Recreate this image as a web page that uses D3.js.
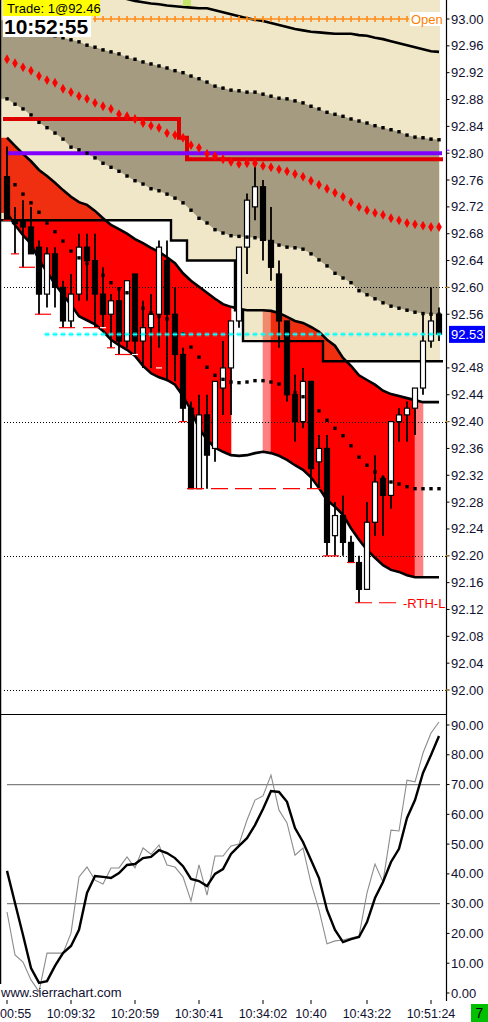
<!DOCTYPE html>
<html><head><meta charset="utf-8">
<script src="https://cdn.jsdelivr.net/npm/d3@7"></script>
<style>
body{margin:0;background:#fff}
svg{display:block}
text{font-family:"Liberation Sans",Arial,sans-serif}
</style></head>
<body><svg id="c" width="488" height="1022"></svg>
<script>
// ---------- DATA ----------
const tickBars   = [0, 8, 16, 24, 32, 38, 45, 53];
const tickLabels = ["00:55","10:09:32","10:20:59","10:30:41","10:34:02","10:40","10:43:22","10:51:24"];
const priceTicks = [93.00,92.96,92.92,92.88,92.84,92.80,92.76,92.72,92.68,92.64,92.60,92.56,92.52,92.48,92.44,92.40,92.36,92.32,92.28,92.24,92.20,92.16,92.12,92.08,92.04,92.00];
const oscTicks   = [90,80,70,60,50,40,30,20,10,0];
const oscLevels  = [70,30];
const gridPrices = [92.60,92.40,92.20,92.00];

const open  = [92.765,92.70,92.70,92.69,92.66,92.59,92.65,92.60,92.55,92.59,92.66,92.64,92.59,92.56,92.58,92.52,92.62,92.52,92.54,92.56,92.64,92.56,92.50,92.42,92.30,92.41,92.36,92.45,92.48,92.55,92.66,92.72,92.75,92.67,92.62,92.55,92.44,92.40,92.46,92.34,92.36,92.23,92.26,92.22,92.19,92.15,92.25,92.315,92.29,92.40,92.41,92.42,92.45,92.52,92.56];
const high  = [92.81,92.72,92.73,92.72,92.67,92.66,92.66,92.61,92.62,92.68,92.68,92.68,92.63,92.59,92.60,92.61,92.62,92.58,92.59,92.67,92.67,92.60,92.51,92.43,92.44,92.44,92.46,92.52,92.55,92.66,92.74,92.78,92.76,92.72,92.64,92.55,92.47,92.48,92.46,92.38,92.38,92.28,92.29,92.23,92.20,92.28,92.35,92.32,92.40,92.42,92.43,92.45,92.56,92.60,92.57];
const low   = [92.70,92.65,92.63,92.65,92.56,92.57,92.57,92.54,92.54,92.58,92.58,92.54,92.54,92.51,92.50,92.51,92.50,92.48,92.48,92.51,92.46,92.46,92.40,92.30,92.30,92.30,92.34,92.41,92.41,92.54,92.62,92.70,92.64,92.61,92.51,92.43,92.37,92.39,92.30,92.30,92.20,92.20,92.20,92.19,92.13,92.15,92.23,92.23,92.27,92.37,92.37,92.38,92.44,92.51,92.52];
const close = [92.70,92.695,92.69,92.65,92.59,92.65,92.60,92.55,92.59,92.66,92.64,92.59,92.56,92.58,92.52,92.61,92.52,92.54,92.56,92.66,92.56,92.50,92.42,92.30,92.41,92.35,92.46,92.48,92.55,92.66,92.73,92.75,92.67,92.63,92.55,92.44,92.40,92.46,92.33,92.36,92.22,92.26,92.22,92.19,92.15,92.25,92.31,92.29,92.40,92.41,92.42,92.45,92.52,92.55,92.53];

const outerTop = [93.073,93.070,93.067,93.064,93.061,93.058,93.055,93.052,93.049,93.046,93.043,93.040,93.037,93.034,93.032,93.030,93.027,93.025,93.023,93.022,93.020,93.019,93.018,93.017,93.016,93.016,93.013,93.010,93.007,93.004,93.001,92.999,92.997,92.994,92.991,92.988,92.985,92.983,92.981,92.980,92.979,92.978,92.978,92.978,92.976,92.975,92.972,92.970,92.967,92.964,92.961,92.958,92.955,92.952,92.951];
const bbUpper = [92.998,92.995,92.991,92.987,92.983,92.979,92.975,92.972,92.969,92.966,92.961,92.958,92.954,92.951,92.948,92.943,92.940,92.936,92.933,92.930,92.927,92.923,92.920,92.915,92.911,92.906,92.900,92.897,92.894,92.893,92.891,92.891,92.888,92.885,92.882,92.881,92.878,92.875,92.870,92.866,92.861,92.858,92.855,92.851,92.848,92.845,92.841,92.838,92.835,92.832,92.827,92.824,92.823,92.821,92.820];
const bbMid   = [92.940,92.934,92.928,92.923,92.915,92.909,92.905,92.896,92.891,92.885,92.881,92.875,92.870,92.866,92.858,92.855,92.851,92.845,92.841,92.838,92.830,92.827,92.823,92.812,92.808,92.799,92.796,92.791,92.787,92.784,92.785,92.785,92.781,92.779,92.776,92.773,92.769,92.765,92.759,92.753,92.747,92.741,92.735,92.727,92.720,92.715,92.711,92.708,92.703,92.700,92.696,92.694,92.692,92.690,92.690];
const bbLower = [92.881,92.873,92.866,92.857,92.846,92.838,92.830,92.821,92.809,92.805,92.800,92.793,92.785,92.779,92.773,92.766,92.759,92.754,92.747,92.744,92.739,92.733,92.726,92.715,92.703,92.696,92.686,92.681,92.677,92.676,92.675,92.674,92.672,92.668,92.663,92.660,92.659,92.657,92.650,92.641,92.632,92.621,92.614,92.607,92.595,92.589,92.583,92.577,92.572,92.569,92.566,92.563,92.561,92.560,92.560];
const kcUpper = [92.823,92.811,92.799,92.788,92.775,92.766,92.756,92.745,92.735,92.727,92.723,92.714,92.703,92.693,92.687,92.680,92.672,92.666,92.659,92.653,92.645,92.636,92.621,92.610,92.601,92.592,92.583,92.575,92.571,92.568,92.566,92.566,92.566,92.565,92.562,92.556,92.550,92.547,92.541,92.534,92.522,92.513,92.495,92.483,92.469,92.462,92.455,92.446,92.441,92.438,92.435,92.432,92.429,92.429,92.429];
const kcMid   = [92.763,92.753,92.739,92.726,92.712,92.696,92.683,92.669,92.654,92.644,92.636,92.629,92.618,92.607,92.598,92.592,92.581,92.569,92.562,92.557,92.553,92.545,92.531,92.511,92.496,92.481,92.469,92.463,92.459,92.458,92.459,92.461,92.461,92.459,92.456,92.449,92.443,92.437,92.428,92.416,92.402,92.390,92.379,92.364,92.347,92.335,92.325,92.316,92.310,92.307,92.303,92.300,92.300,92.300,92.300];
const kcLower = [92.711,92.693,92.678,92.665,92.641,92.623,92.605,92.589,92.574,92.557,92.551,92.545,92.535,92.522,92.514,92.507,92.498,92.483,92.472,92.466,92.462,92.455,92.438,92.417,92.390,92.373,92.361,92.355,92.350,92.349,92.350,92.353,92.355,92.353,92.349,92.343,92.335,92.328,92.317,92.301,92.283,92.273,92.261,92.241,92.224,92.209,92.197,92.186,92.179,92.176,92.171,92.168,92.168,92.168,92.168];
// fill state of the band between bar i and bar i+1: r = red, p = pink, n = none
const kcFill = "rrrrrrrrrrrrrrrrrrrrrrrrrrrrnnnnprrrrrrrrrrrrrrrrrrpnn";
const stepLevel = [92.70,92.70,92.70,92.70,92.70,92.70,92.70,92.70,92.70,92.70,92.70,92.70,92.70,92.70,92.70,92.70,92.70,92.70,92.70,92.70,92.70,92.67,92.67,92.64,92.64,92.64,92.64,92.64,92.64,92.566,92.52,92.52,92.52,92.52,92.52,92.52,92.52,92.52,92.52,92.52,92.49,92.49,92.49,92.49,92.49,92.49,92.49,92.49,92.49,92.49,92.49,92.49,92.49,92.49,92.49];
const redLevel = [92.851,92.851,92.851,92.851,92.851,92.851,92.851,92.851,92.851,92.851,92.851,92.851,92.851,92.851,92.851,92.851,92.851,92.851,92.851,92.851,92.851,92.851,92.823,92.791,92.791,92.791,92.791,92.791,92.791,92.791,92.791,92.791,92.791,92.791,92.791,92.791,92.791,92.791,92.791,92.791,92.791,92.791,92.791,92.791,92.791,92.791,92.791,92.791,92.791,92.791,92.791,92.791,92.791,92.791,92.791];
const purpleLevel = 92.80;
const openLevel = 93.00, openFrom = 11, openTo = 50;
const lastPrice = 92.53, lastFrom = 5;
const lowStart = [0,1,2,4,7,10,13,14,22,23,40,43,44];
const lowEnd   = [0,1,3,5,8,11,13,15,22,39,41,43,49];
const lowPrice = [92.70,92.65,92.63,92.56,92.54,92.54,92.51,92.50,92.40,92.30,92.20,92.19,92.13];
const lowDash  = [0,0,0,0,0,0,0,0,0,1,0,0,1];
const whiteBar = [12,16,19];
const whitePrice = [92.54,92.50,92.48];

const stochK = [27.2,12.8,10.4,4.4,0.5,13.4,13.4,13.4,20.1,39.0,42.3,37.9,36.6,42.0,42.0,45.7,42.0,48.7,46.6,49.7,43.0,42.3,39.0,30.9,43.0,32.9,46.0,46.0,49.4,50.0,58.1,64.8,66.2,73.2,61.4,57.1,46.3,48.7,36.9,27.9,16.5,17.5,17.8,18.5,19.1,33.6,43.3,37.3,54.7,54.4,71.5,70.9,80.6,87.3,91.0];
const stochD = [41.0,30.2,19.5,8.4,3.4,4.0,9.1,13.4,15.8,21.2,33.6,39.3,39.0,38.6,40.3,43.0,43.3,45.3,45.7,48.0,47.0,45.3,42.6,38.3,37.6,35.9,40.0,41.6,46.7,49.4,52.0,56.4,61.8,67.8,67.5,64.2,55.4,50.7,44.7,38.6,27.9,21.2,17.1,18.1,18.8,23.8,31.9,37.3,44.0,48.4,58.8,64.8,73.9,79.9,86.3];

// ---------- SCALES ----------
const svg = d3.select("#c");
const x  = d3.scaleLinear().domain([0, 54]).range([7, 439]);
const y  = d3.scaleLinear().domain([92, 93]).range([690, 19]);
const yo = d3.scaleLinear().domain([0, 90]).range([993, 725]);
const half = (x(1) - x(0)) / 2;
const AX = 446.5;

const defs = svg.append("defs");
defs.append("clipPath").attr("id","cm").append("rect").attr("x",0).attr("y",0).attr("width",AX).attr("height",714);
defs.append("clipPath").attr("id","cf").append("rect").attr("x",0).attr("y",0).attr("width",x(54)+1).attr("height",714);
defs.append("clipPath").attr("id","co").append("rect").attr("x",0).attr("y",714).attr("width",AX).attr("height",290);

svg.append("rect").attr("width",488).attr("height",1022).attr("fill","#fff");

const fills = svg.append("g").attr("clip-path","url(#cf)");
const main = svg.append("g").attr("clip-path","url(#cm)");

function stepPts(arr, extLeft){
  const p = [];
  arr.forEach((v,i)=>{
    const x0 = (i===0 && extLeft) ? 0 : x(i)-half;
    p.push([x0, y(v)], [x(i)+half, y(v)]);
  });
  return p;
}

// red / pink band fill
const fillColor = {r:"#ff0000", p:"#ff8080"};
fills.append("path")
  .attr("d", d3.area().x(d=>d[0]).y0(d=>d[1]).y1(d=>d[2])([[0,y(kcLower[0]),y(kcUpper[0])],[x(0),y(kcLower[0]),y(kcUpper[0])]]))
  .attr("fill", fillColor.r);
for (let i=0;i<54;i++){
  const c = kcFill[i]; if (c==="n") continue;
  fills.append("path")
    .attr("d", d3.area().x(j=>x(j)).y0(j=>y(kcLower[j])).y1(j=>y(kcUpper[j]))([i,i+1]))
    .attr("fill", fillColor[c]).attr("stroke", fillColor[c]).attr("stroke-width",0.6);
}
// beige (semi transparent) region from top down to the step level
const sp = stepPts(stepLevel, true);
fills.append("path")
  .attr("d", d3.area().x(d=>d[0]).y0(d=>d[1]).y1(0)(sp))
  .attr("fill","rgb(201,166,59)").attr("fill-opacity",0.28);
// gray-brown band between bollinger lines
const idx = d3.range(55);
fills.append("path")
  .attr("d", d3.area().x(i=>i<0?0:x(i)).y0(i=>y(bbLower[Math.max(i,0)])).y1(i=>y(bbUpper[Math.max(i,0)]))([-1,...idx]))
  .attr("fill","#a59b80");

// dotted grid lines
gridPrices.forEach(p=>{
  main.append("line").attr("x1",4).attr("x2",AX).attr("y1",Math.round(y(p))+0.5).attr("y2",Math.round(y(p))+0.5)
    .attr("stroke","#000").attr("stroke-width",1).attr("stroke-dasharray","1,2");
});

const line = d3.line().x((d,i)=>x(i)).y(d=>y(d));
main.append("path").attr("d", line(outerTop)).attr("fill","none").attr("stroke","#000").attr("stroke-width",2.6);
main.append("path").attr("d", d3.line()(sp)).attr("fill","none").attr("stroke","#000").attr("stroke-width",2.4);
main.append("path").attr("d", line(kcUpper)).attr("fill","none").attr("stroke","#000").attr("stroke-width",2.6);
main.append("path").attr("d", line(kcLower)).attr("fill","none").attr("stroke","#000").attr("stroke-width",2.6);

main.append("path").attr("d", d3.line()(stepPts(redLevel,false))).attr("fill","none").attr("stroke","#dd0000").attr("stroke-width",4);
main.append("line").attr("x1",x(0)-1).attr("x2",x(54)+3).attr("y1",y(purpleLevel)).attr("y2",y(purpleLevel))
  .attr("stroke","#8000ff").attr("stroke-width",4);

// candles
const cg = main.append("g");
idx.forEach(i=>{
  const up = close[i] >= open[i];
  cg.append("line").attr("x1",x(i)).attr("x2",x(i)).attr("y1",y(high[i])).attr("y2",y(low[i]))
    .attr("stroke","#000").attr("stroke-width",1.8);
  const t = y(Math.max(open[i],close[i])), b = y(Math.min(open[i],close[i]));
  cg.append("rect").attr("x",x(i)-2.5).attr("y",t).attr("width",5).attr("height",Math.max(1,b-t))
    .attr("fill", up ? "#fff" : "#000").attr("stroke","#000").attr("stroke-width",1.2);
});

function dots(arr, r, color){
  main.append("g").selectAll("rect").data(arr).join("rect")
    .attr("x",(d,i)=>x(i)-r).attr("y",d=>y(d)-r).attr("width",2*r).attr("height",2*r)
    .attr("fill",color);
}
dots(bbUpper, 1.7, "#000");
dots(bbLower, 1.7, "#000");
dots(kcMid, 1.7, "#000");
main.append("g").selectAll("path").data(bbMid).join("path")
  .attr("transform",(d,i)=>`translate(${x(i)},${y(d)})`)
  .attr("d", d3.symbol(d3.symbolDiamond, 28)).attr("fill","#ff0000");

// low markers
lowPrice.forEach((p,k)=>{
  main.append("line").attr("x1",x(lowStart[k])-half).attr("x2",x(lowEnd[k])+half)
    .attr("y1",y(p)).attr("y2",y(p)).attr("stroke","#ff0000").attr("stroke-width",1.2)
    .attr("stroke-dasharray", lowDash[k] ? "17,7" : null);
});
whitePrice.forEach((p,k)=>{
  main.append("line").attr("x1",x(whiteBar[k])-3).attr("x2",x(whiteBar[k])+3)
    .attr("y1",y(p)).attr("y2",y(p)).attr("stroke","#fff").attr("stroke-width",1.2);
});
main.append("text").attr("x",403).attr("y",y(92.13)+5).attr("font-size",13).attr("fill","#ff0000").text("-RTH-L");

// orange open line
const og = main.append("g");
og.append("line").attr("x1",x(openFrom)-2).attr("x2",x(openTo)+2).attr("y1",y(openLevel)).attr("y2",y(openLevel))
  .attr("stroke","#ff8c1a").attr("stroke-width",1.5);
d3.range(openFrom, openTo+1).forEach(i=>{
  og.append("line").attr("x1",x(i)).attr("x2",x(i)).attr("y1",y(openLevel)-3).attr("y2",y(openLevel)+3)
    .attr("stroke","#ff8c1a").attr("stroke-width",1.6);
});
main.append("rect").attr("x",410).attr("y",y(openLevel)-7).attr("width",34).attr("height",14).attr("fill","#fff");
main.append("text").attr("x",411).attr("y",y(openLevel)+5).attr("font-size",13).attr("fill","#ff8000").text("Open");

// cyan last price markers
d3.range(lastFrom, 55).forEach(i=>{
  const yy = y(lastPrice);
  main.append("line").attr("x1",x(i)-2.5).attr("x2",x(i)+2.5).attr("y1",yy).attr("y2",yy).attr("stroke","#00ffff").attr("stroke-width",1.5);
  main.append("line").attr("x1",x(i)-1).attr("x2",x(i)-1).attr("y1",yy-2).attr("y2",yy+2).attr("stroke","#00ffff").attr("stroke-width",1);
  main.append("line").attr("x1",x(i)+1).attr("x2",x(i)+1).attr("y1",yy-2).attr("y2",yy+2).attr("stroke","#00ffff").attr("stroke-width",1);
});

main.append("rect").attr("x",x(22)).attr("y",0).attr("width",x(23)-x(22)).attr("height",6).attr("fill","#c4e46a");

// top-left labels
svg.append("rect").attr("x",3).attr("y",0).attr("width",97).attr("height",16).attr("fill","#ffff00");
svg.append("text").attr("x",7).attr("y",13).attr("font-size",13).attr("fill","#000").text("Trade: 1@92.46");
svg.append("rect").attr("x",3).attr("y",16).attr("width",88).attr("height",21).attr("fill","#fff");
svg.append("text").attr("x",4).attr("y",33.5).attr("font-size",21).attr("font-weight","bold").attr("fill","#000").text("10:52:55");

// panel frame
svg.append("line").attr("x1",0.5).attr("x2",0.5).attr("y1",0).attr("y2",984).attr("stroke","#000").attr("stroke-width",1.5);
svg.append("line").attr("x1",AX).attr("x2",AX).attr("y1",0).attr("y2",1001).attr("stroke","#000").attr("stroke-width",1.2);
svg.append("line").attr("x1",0).attr("x2",AX).attr("y1",714.5).attr("y2",714.5).attr("stroke","#000").attr("stroke-width",1.2);

// price axis
priceTicks.forEach(p=>{
  if (Math.abs(p - lastPrice) < 0.02) return; // hidden behind the last-price box
  svg.append("line").attr("x1",AX).attr("x2",AX+3).attr("y1",y(p)).attr("y2",y(p)).attr("stroke","#000");
  svg.append("text").attr("x",451).attr("y",y(p)+4.5).attr("font-size",13).attr("fill","#101030").text(p.toFixed(2));
});
gridPrices.forEach(p=>{
  svg.append("line").attr("x1",AX-1).attr("x2",AX+2).attr("y1",y(p)).attr("y2",y(p)).attr("stroke","#e0a020").attr("stroke-width",1);
});
svg.append("line").attr("x1",AX).attr("x2",AX+3).attr("y1",y(purpleLevel)-3).attr("y2",y(purpleLevel)-3).attr("stroke","#8000ff");
svg.append("rect").attr("x",449).attr("y",y(lastPrice)-8.5).attr("width",36).attr("height",17).attr("fill","#0000ff");
svg.append("text").attr("x",451).attr("y",y(lastPrice)+5).attr("font-size",13).attr("fill","#fff").text(lastPrice.toFixed(2));

// oscillator
const osc = svg.append("g").attr("clip-path","url(#co)");
oscLevels.forEach(v=>{
  osc.append("line").attr("x1",x(0)).attr("x2",x(54)+1).attr("y1",yo(v)).attr("y2",yo(v)).attr("stroke","#808080").attr("stroke-width",1.2);
});
const oline = d3.line().x((d,i)=>x(i)).y(d=>yo(d));
osc.append("path").attr("d", oline(stochK)).attr("fill","none").attr("stroke","#8c8c8c").attr("stroke-width",1.1);
osc.append("path").attr("d", oline(stochD)).attr("fill","none").attr("stroke","#000").attr("stroke-width",2.4);
oscTicks.forEach(v=>{
  svg.append("line").attr("x1",AX).attr("x2",AX+3).attr("y1",yo(v)).attr("y2",yo(v)).attr("stroke","#000");
  svg.append("text").attr("x",451).attr("y",yo(v)+4.5).attr("font-size",13).attr("fill","#101030").text(v.toFixed(2));
});
svg.append("text").attr("x",1).attr("y",997).attr("font-size",13).attr("fill","#101030").text("www.sierrachart.com");

// time axis
tickBars.forEach((b,k)=>{
  svg.append("line").attr("x1",x(b)).attr("x2",x(b)).attr("y1",1000).attr("y2",1004).attr("stroke","#000");
  const t = svg.append("text").attr("y",1018).attr("font-size",12.5).attr("fill","#101030").text(tickLabels[k]);
  if (k===0) t.attr("x",0); else t.attr("x",x(b)).attr("text-anchor","middle");
});
svg.append("rect").attr("x",471).attr("y",1004).attr("width",17).attr("height",18).attr("fill","#00c000");
svg.append("text").attr("x",479.5).attr("y",1018).attr("text-anchor","middle").attr("font-size",14).attr("fill","#000").text("7");
</script>
</body></html>
